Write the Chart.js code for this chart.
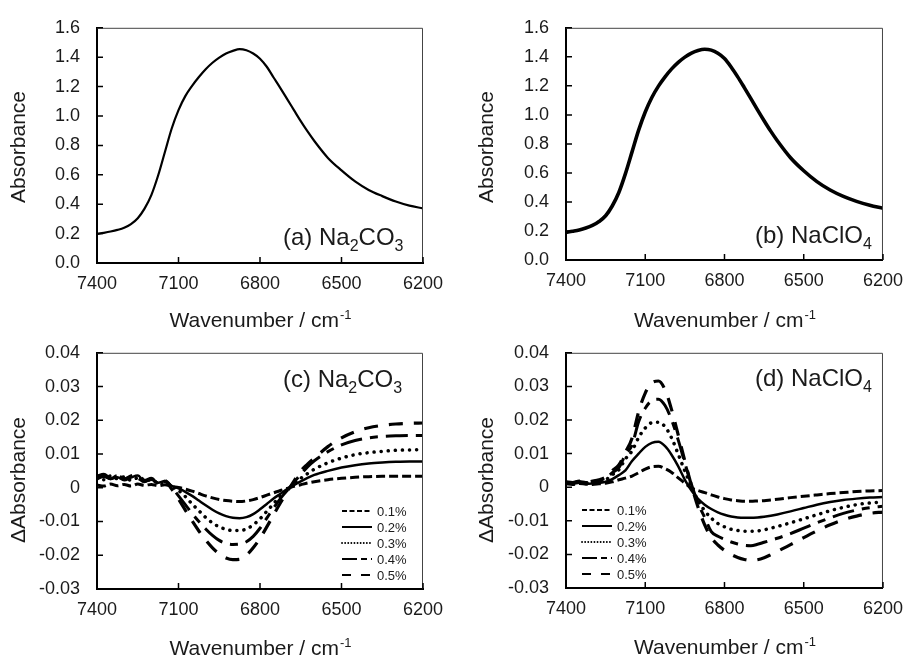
<!DOCTYPE html>
<html>
<head>
<meta charset="utf-8">
<title>NIR spectra</title>
<script src="https://cdn.jsdelivr.net/npm/chart.js@4.4.0/dist/chart.umd.min.js"></script>
<style>
  html, body { margin: 0; padding: 0; background: #fff; }
  #wrap { position: relative; width: 913px; height: 658px; overflow: hidden; }
  #wrap canvas { position: absolute; }
</style>
</head>
<body>
<div id="wrap">
  <canvas id="chartA" width="456" height="335" style="left:0;top:0"></canvas>
  <canvas id="chartB" width="457" height="335" style="left:456px;top:0"></canvas>
  <canvas id="chartC" width="456" height="333" style="left:0;top:325px"></canvas>
  <canvas id="chartD" width="457" height="333" style="left:456px;top:325px"></canvas>
</div>
<script>
// wavenumber grid (cm-1), shared by all panels
const wavenumbers = [7400, 7375, 7350, 7325, 7300, 7275, 7250, 7225, 7200, 7175, 7150, 7125, 7100,
    7075, 7050, 7025, 7000, 6975, 6950, 6925, 6900, 6875, 6850, 6825, 6800, 6775, 6750, 6725, 6700,
    6675, 6650, 6625, 6600, 6550, 6500, 6450, 6400, 6350, 6300, 6250, 6200];

const xTicks = [7400, 7100, 6800, 6500, 6200];
const concLabels = ['0.1%', '0.2%', '0.3%', '0.4%', '0.5%'];

// (a) and (b) absorbance
const absNa2CO3 = [0.197, 0.205, 0.214, 0.225, 0.240, 0.265, 0.305, 0.370, 0.462, 0.595, 0.755, 0.915, 1.040,
    1.135, 1.205, 1.265, 1.318, 1.362, 1.397, 1.425, 1.443, 1.455, 1.447, 1.425, 1.390, 1.335, 1.262, 1.190, 1.115,
    1.040, 0.965, 0.895, 0.830, 0.715, 0.630, 0.555, 0.497, 0.455, 0.418, 0.390, 0.372];
const absNaClO4 = [0.190, 0.198, 0.207, 0.220, 0.238, 0.265, 0.305, 0.372, 0.465, 0.595, 0.745, 0.895, 1.020,
    1.120, 1.198, 1.262, 1.317, 1.362, 1.398, 1.426, 1.444, 1.452, 1.446, 1.424, 1.388, 1.330, 1.262, 1.188, 1.112,
    1.035, 0.960, 0.888, 0.822, 0.705, 0.615, 0.540, 0.482, 0.438, 0.404, 0.377, 0.356];

// (c) Na2CO3 difference spectra
const dNa2CO3_01 = [0.0008, 0.0005, 0.0011, 0.0006, 0.0010, 0.0005, 0.0011, 0.0007, 0.0010, 0.0006, 0.0009, 0.0004, 0.0001,
    -0.0004, -0.0010, -0.0017, -0.0024, -0.0030, -0.0035, -0.0038, -0.0040, -0.0041, -0.0039, -0.0035, -0.0029, -0.0022, -0.0015, -0.0008, -0.0002,
    0.0004, 0.0009, 0.0014, 0.0018, 0.0024, 0.0028, 0.0031, 0.0033, 0.0034, 0.0034, 0.0034, 0.0034];
const dNa2CO3_02 = [0.0025, 0.0033, 0.0026, 0.0031, 0.0022, 0.0030, 0.0036, 0.0019, 0.0024, 0.0015, 0.0020, 0.0006, -0.0002,
    -0.0012, -0.0024, -0.0038, -0.0052, -0.0065, -0.0076, -0.0084, -0.0089, -0.0090, -0.0087, -0.0078, -0.0064, -0.0048, -0.0032, -0.0018, -0.0004,
    0.0008, 0.0019, 0.0029, 0.0038, 0.0050, 0.0060, 0.0067, 0.0072, 0.0075, 0.0077, 0.0078, 0.0078];
const dNa2CO3_03 = [0.0031, 0.0024, 0.0035, 0.0027, 0.0032, 0.0022, 0.0029, 0.0018, 0.0025, 0.0013, 0.0017, 0.0004, -0.0008,
    -0.0026, -0.0048, -0.0068, -0.0088, -0.0104, -0.0116, -0.0123, -0.0127, -0.0127, -0.0122, -0.0110, -0.0092, -0.0070, -0.0047, -0.0025, -0.0006,
    0.0012, 0.0028, 0.0042, 0.0055, 0.0074, 0.0088, 0.0098, 0.0104, 0.0108, 0.0111, 0.0112, 0.0113];
const dNa2CO3_04 = [0.0030, 0.0038, 0.0027, 0.0036, 0.0025, 0.0033, 0.0028, 0.0018, 0.0027, 0.0014, 0.0021, 0.0002, -0.0024,
    -0.0050, -0.0076, -0.0100, -0.0122, -0.0141, -0.0156, -0.0165, -0.0168, -0.0167, -0.0160, -0.0144, -0.0120, -0.0090, -0.0060, -0.0032, -0.0008,
    0.0016, 0.0040, 0.0062, 0.0080, 0.0107, 0.0127, 0.0140, 0.0148, 0.0152, 0.0154, 0.0155, 0.0155];
const dNa2CO3_05 = [0.0034, 0.0040, 0.0029, 0.0037, 0.0026, 0.0035, 0.0041, 0.0022, 0.0028, 0.0015, 0.0019, -0.0004, -0.0034,
    -0.0066, -0.0098, -0.0128, -0.0155, -0.0178, -0.0196, -0.0208, -0.0213, -0.0212, -0.0200, -0.0178, -0.0150, -0.0116, -0.0080, -0.0045, -0.0012,
    0.0020, 0.0050, 0.0070, 0.0088, 0.0122, 0.0148, 0.0166, 0.0178, 0.0185, 0.0189, 0.0191, 0.0192];

// (d) NaClO4 difference spectra
const dNaClO4_01 = [0.0010, 0.0008, 0.0011, 0.0009, 0.0008, 0.0010, 0.0012, 0.0016, 0.0022, 0.0027, 0.0033, 0.0043, 0.0054,
    0.0061, 0.0062, 0.0055, 0.0044, 0.0028, 0.0012, -0.0002, -0.0010, -0.0016, -0.0023, -0.0029, -0.0034, -0.0038, -0.0040, -0.0042, -0.0042,
    -0.0041, -0.0040, -0.0038, -0.0036, -0.0031, -0.0027, -0.0023, -0.0019, -0.0016, -0.0013, -0.0011, -0.0010];
const dNaClO4_02 = [0.0012, 0.0010, 0.0013, 0.0010, 0.0011, 0.0013, 0.0016, 0.0024, 0.0036, 0.0050, 0.0078, 0.0100, 0.0120,
    0.0132, 0.0135, 0.0122, 0.0096, 0.0062, 0.0022, -0.0010, -0.0035, -0.0052, -0.0065, -0.0075, -0.0082, -0.0087, -0.0090, -0.0091, -0.0091,
    -0.0090, -0.0088, -0.0085, -0.0081, -0.0072, -0.0062, -0.0052, -0.0044, -0.0038, -0.0034, -0.0031, -0.0029];
const dNaClO4_03 = [0.0014, 0.0011, 0.0015, 0.0012, 0.0014, 0.0017, 0.0022, 0.0037, 0.0052, 0.0084, 0.0108, 0.0148, 0.0176,
    0.0192, 0.0193, 0.0180, 0.0146, 0.0098, 0.0048, 0.0002, -0.0040, -0.0070, -0.0092, -0.0108, -0.0118, -0.0125, -0.0129, -0.0131, -0.0131,
    -0.0130, -0.0127, -0.0122, -0.0117, -0.0106, -0.0094, -0.0082, -0.0070, -0.0060, -0.0052, -0.0047, -0.0044];
const dNaClO4_04 = [0.0015, 0.0013, 0.0017, 0.0014, 0.0016, 0.0020, 0.0026, 0.0043, 0.0058, 0.0097, 0.0125, 0.0195, 0.0235,
    0.0258, 0.0262, 0.0243, 0.0200, 0.0140, 0.0072, 0.0008, -0.0048, -0.0090, -0.0132, -0.0146, -0.0155, -0.0163, -0.0169, -0.0173, -0.0174,
    -0.0170, -0.0164, -0.0158, -0.0152, -0.0138, -0.0122, -0.0106, -0.0091, -0.0078, -0.0068, -0.0061, -0.0057];
const dNaClO4_05 = [0.0016, 0.0014, 0.0018, 0.0015, 0.0018, 0.0022, 0.0030, 0.0049, 0.0066, 0.0104, 0.0146, 0.0225, 0.0280,
    0.0311, 0.0316, 0.0290, 0.0230, 0.0155, 0.0078, 0.0005, -0.0060, -0.0112, -0.0150, -0.0172, -0.0188, -0.0200, -0.0209, -0.0215, -0.0218,
    -0.0216, -0.0210, -0.0201, -0.0191, -0.0171, -0.0150, -0.0130, -0.0112, -0.0097, -0.0086, -0.0078, -0.0074];

const FONT = '"Liberation Sans", Arial, Helvetica, sans-serif';
const INK = '#1a1a1a';

// line styles for the five concentrations (plot, then legend sample)
const lineStyles = [
    { borderDash: [9, 4], borderWidth: 3 },
    { borderDash: [], borderWidth: 2.5 },
    { borderDash: [0.1, 7], borderWidth: 3.5, borderCapStyle: 'round' },
    { borderDash: [22, 8, 8, 8], borderWidth: 3 },
    { borderDash: [14, 11], borderWidth: 3.2 }
];
const legendStyles = [
    { dash: [5, 2.5], width: 2, cap: 'butt' },
    { dash: [], width: 2, cap: 'butt' },
    { dash: [0.1, 3], width: 1.8, cap: 'round' },
    { dash: [15, 4, 6, 4], width: 2, cap: 'butt' },
    { dash: [9, 10], width: 2, cap: 'butt' }
];

function toPoints(vals) {
    return wavenumbers.map((w, i) => ({ x: w, y: vals[i] }));
}

function diffSets(series) {
    return series.map((vals, i) => Object.assign({
        label: concLabels[i],
        data: toPoints(vals),
        borderColor: '#000'
    }, lineStyles[i]));
}

// frame, inward ticks, titles, panel tag and legend
const panelDecor = {
    id: 'panelDecor',
    afterDraw(chart, args, o) {
        const ctx = chart.ctx;
        const a = chart.chartArea;
        const xs = chart.scales.x, ys = chart.scales.y;
        ctx.save();

        ctx.strokeStyle = '#444';
        ctx.lineWidth = 1;
        ctx.beginPath();
        ctx.moveTo(a.left, a.top + 0.5);
        ctx.lineTo(a.right - 0.5, a.top + 0.5);
        ctx.lineTo(a.right - 0.5, a.bottom);
        ctx.stroke();

        ctx.strokeStyle = '#000';
        ctx.lineWidth = 1.5;
        ctx.beginPath();
        xs.ticks.forEach(t => {
            const px = xs.getPixelForValue(t.value);
            ctx.moveTo(px, a.bottom);
            ctx.lineTo(px, a.bottom - 6);
        });
        ys.ticks.forEach(t => {
            const py = ys.getPixelForValue(t.value);
            ctx.moveTo(a.left, py);
            ctx.lineTo(a.left + 6, py);
        });
        ctx.stroke();

        ctx.fillStyle = INK;
        ctx.textBaseline = 'alphabetic';

        // x title with superscript
        ctx.font = `21px ${FONT}`;
        const w1 = ctx.measureText(o.xTitle[0]).width;
        ctx.font = `13px ${FONT}`;
        const w2 = ctx.measureText(o.xTitle[1]).width;
        const x0 = (a.left + a.right) / 2 - (w1 + w2) / 2;
        ctx.textAlign = 'left';
        ctx.font = `21px ${FONT}`;
        ctx.fillText(o.xTitle[0], x0, o.xTitleY);
        ctx.font = `13px ${FONT}`;
        ctx.fillText(o.xTitle[1], x0 + w1 + 1, o.xTitleY - 8);

        // y title
        ctx.save();
        ctx.translate(o.yTitleX, o.yTitleY);
        ctx.rotate(-Math.PI / 2);
        ctx.textAlign = 'center';
        ctx.font = `21px ${FONT}`;
        ctx.fillText(o.yTitle, 0, 0);
        ctx.restore();

        // panel tag, e.g. (a) Na2CO3
        let tx = o.tagX;
        ctx.textAlign = 'left';
        o.tag.forEach(([txt, sub]) => {
            ctx.font = sub ? `16px ${FONT}` : `24px ${FONT}`;
            ctx.fillText(txt, tx, o.tagY + (sub ? 6 : 0));
            tx += ctx.measureText(txt).width;
        });

        // legend
        if (o.legend) {
            const L = o.legend;
            ctx.textBaseline = 'middle';
            chart.data.datasets.forEach((ds, i) => {
                const y = L.y + i * L.gap;
                const st = legendStyles[i];
                ctx.setLineDash(st.dash);
                ctx.lineWidth = st.width;
                ctx.lineCap = st.cap;
                ctx.strokeStyle = '#000';
                ctx.beginPath();
                ctx.moveTo(L.x, y);
                ctx.lineTo(L.x + L.len, y);
                ctx.stroke();
                ctx.setLineDash([]);
                ctx.font = `13px ${FONT}`;
                ctx.fillText(ds.label, L.x + L.len + 5, y + 1);
            });
        }
        ctx.restore();
    }
};

function buildChart(canvasId, datasets, yCfg, box, decor) {
    return new Chart(document.getElementById(canvasId), {
        type: 'line',
        data: { datasets: datasets },
        options: {
            responsive: false,
            animation: false,
            events: [],
            layout: { padding: { top: box.top, right: box.right, bottom: 0, left: 0 } },
            elements: { point: { radius: 0 }, line: { cubicInterpolationMode: 'monotone', fill: false } },
            plugins: {
                legend: { display: false },
                tooltip: { enabled: false },
                colors: { enabled: false },
                panelDecor: decor
            },
            scales: {
                x: {
                    type: 'linear',
                    reverse: true,
                    min: 6200,
                    max: 7400,
                    afterFit: s => { s.height = box.xHeight; },
                    afterBuildTicks: s => { s.ticks = xTicks.map(v => ({ value: v })); },
                    grid: { display: false, drawTicks: false },
                    border: { display: true, color: '#000', width: 2 },
                    ticks: {
                        padding: 10,
                        color: INK,
                        maxRotation: 0,
                        autoSkip: false,
                        font: { family: FONT, size: 18 },
                        callback: v => String(v)
                    }
                },
                y: {
                    type: 'linear',
                    min: yCfg.min,
                    max: yCfg.max,
                    afterFit: s => { s.width = box.yWidth; },
                    grid: { display: false, drawTicks: false },
                    border: { display: true, color: '#000', width: 2 },
                    ticks: {
                        stepSize: yCfg.step,
                        padding: 17,
                        color: INK,
                        font: { family: FONT, size: 18 },
                        callback: yCfg.fmt
                    }
                }
            }
        },
        plugins: [panelDecor]
    });
}

const absY = { min: 0, max: 1.6, step: 0.2, fmt: v => v.toFixed(1) };
const diffY = { min: -0.03, max: 0.04, step: 0.01, fmt: v => (Math.abs(v) < 1e-9 ? '0' : v.toFixed(2)) };
const xTitle = ['Wavenumber / cm', '-1'];

buildChart('chartA',
    [{ label: 'Na2CO3', data: toPoints(absNa2CO3), borderColor: '#000', borderWidth: 2.2 }],
    absY,
    { top: 19, right: 33, yWidth: 97, xHeight: 72 },
    { xTitle: xTitle, xTitleY: 327, yTitle: 'Absorbance', yTitleX: 25, yTitleY: 147,
      tag: [['(a) Na', false], ['2', true], ['CO', false], ['3', true]], tagX: 283, tagY: 245 });

buildChart('chartB',
    [{ label: 'NaClO4', data: toPoints(absNaClO4), borderColor: '#000', borderWidth: 3.6 }],
    absY,
    { top: 18, right: 22, yWidth: 110, xHeight: 75 },
    { xTitle: xTitle, xTitleY: 327, yTitle: 'Absorbance', yTitleX: 37, yTitleY: 147,
      tag: [['(b) NaClO', false], ['4', true]], tagX: 299, tagY: 243 });

buildChart('chartC',
    diffSets([dNa2CO3_01, dNa2CO3_02, dNa2CO3_03, dNa2CO3_04, dNa2CO3_05]),
    diffY,
    { top: 20, right: 33, yWidth: 97, xHeight: 69 },
    { xTitle: xTitle, xTitleY: 330, yTitle: '\u0394Absorbance', yTitleX: 25, yTitleY: 155,
      tag: [['(c) Na', false], ['2', true], ['CO', false], ['3', true]], tagX: 283, tagY: 62,
      legend: { x: 342, y: 186, gap: 16, len: 30 } });

buildChart('chartD',
    diffSets([dNaClO4_01, dNaClO4_02, dNaClO4_03, dNaClO4_04, dNaClO4_05]),
    diffY,
    { top: 20, right: 23, yWidth: 110, xHeight: 70 },
    { xTitle: xTitle, xTitleY: 329, yTitle: '\u0394Absorbance', yTitleX: 37, yTitleY: 155,
      tag: [['(d) NaClO', false], ['4', true]], tagX: 299, tagY: 61,
      legend: { x: 126, y: 185, gap: 16, len: 30 } });
</script>
</body>
</html>
